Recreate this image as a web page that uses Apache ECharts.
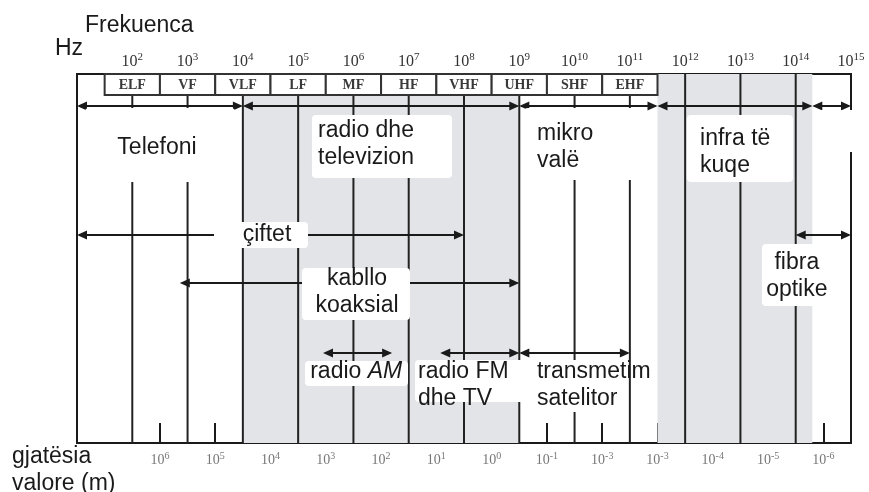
<!DOCTYPE html>
<html>
<head>
<meta charset="utf-8">
<script src="https://cdn.jsdelivr.net/npm/echarts@6/dist/echarts.min.js"></script>
<style>
    html, body { margin: 0; padding: 0; background: #fff; }
    #main { width: 869px; height: 492px; }
</style>
</head>
<body>
<div id="main"></div>
<script>
// frequency decades (exponent of 10, Hz)
const freqExp = [2, 3, 4, 5, 6, 7, 8, 9, 10, 11, 12, 13, 14, 15];
const decades = [2, 3, 4, 5, 6, 7, 8, 9, 10, 11, 12, 13, 14];
// bands, each one centred on its decade
const bandNames = ['ELF', 'VF', 'VLF', 'LF', 'MF', 'HF', 'VHF', 'UHF', 'SHF', 'EHF'];
const bandCenters = [2, 3, 4, 5, 6, 7, 8, 9, 10, 11];
// wavelength labels, on the half decades
const waveTicks = [2.5, 3.5, 4.5, 5.5, 6.5, 7.5, 8.5, 9.5, 10.5, 11.5, 12.5, 13.5, 14.5];
const waveExp = ['6', '5', '4', '3', '2', '1', '0', '-1', '-3', '-3', '-4', '-5', '-6'];
// services (top arrows)
const serviceNames = ['Telefoni', 'radio dhe\ntelevizion', 'mikro\nvalë', 'infra të\nkuqe', ''];
const serviceFrom = [1, 4, 9, 11.5, 14.3];
const serviceTo = [4, 9, 11.5, 14.3, 15];
// transmission media
const mediaNames = ['çiftet', 'kabllo\nkoaksial', '{n|radio }{i|AM}', 'radio FM\ndhe TV', 'transmetim\nsatelitor', 'fibra\noptike'];
const mediaFrom = [1, 2.86, 5.45, 7.57, 9, 14];
const mediaTo = [8, 9, 6.7, 9, 11, 15];
// shaded zones
const shadeFrom = [4, 11.5];
const shadeTo = [9, 14.3];

// layout (rows are px below the top of the box)
const ROW_MAX = 369;
const serviceRow = 32;
const mediaRows = [161, 209, 279, 279, 279, 161];
const serviceBoxes = [
    { box: [1.145, 3.858, 34, 108], at: [2.447, 74], align: 'center' },
    { box: [5.25, 7.783, 41, 104], at: [5.36, 70], align: 'left' },
    { box: [9.085, 11.183, 34, 106], at: [9.32, 73], align: 'left' },
    { box: [12.03, 13.95, 41, 108], at: [12.27, 78], align: 'left' },
    { box: [14.31, 15.2, 36, 78], at: [14.7, 57], align: 'center' },
];
const mediaBoxes = [
    { box: [3.478, 5.178, 148, 174], at: [4.437, 161], align: 'center' },
    { box: [5.07, 7.023, 194, 246], at: [6.065, 218], align: 'center' },
    { box: [5.124, 6.987, 287, 312], at: [6.05, 298], align: 'center' },
    { box: [7.114, 9.103, 286, 328], at: [7.168, 311], align: 'left' },
    { box: [9.194, 10.93, 286, 338], at: [9.32, 311], align: 'left' },
    { box: [13.39, 14.73, 170, 232], at: [14.02, 202], align: 'center' },
];

const SANS = "'Liberation Sans', Arial, sans-serif";
const SERIF = "'Liberation Serif', 'Times New Roman', serif";
const INK = '#1a1a1a';

function arrow(x0, x1, row, api) {
    const a = api.coord([x0, row]);
    const b = api.coord([x1, row]);
    const L = 10, H = 4.5;
    return {
        type: 'group',
        children: [
            { type: 'line', shape: { x1: a[0] + 2, y1: a[1], x2: b[0] - 2, y2: b[1] }, style: { stroke: INK, lineWidth: 2 } },
            { type: 'polygon', shape: { points: [[a[0], a[1]], [a[0] + L, a[1] - H], [a[0] + L, a[1] + H]] }, style: { fill: INK } },
            { type: 'polygon', shape: { points: [[b[0], b[1]], [b[0] - L, b[1] - H], [b[0] - L, b[1] + H]] }, style: { fill: INK } },
        ]
    };
}

function labelBox(text, lay, api) {
    const p0 = api.coord([lay.box[0], lay.box[2]]);
    const p1 = api.coord([lay.box[1], lay.box[3]]);
    const t = api.coord(lay.at);
    return {
        type: 'group',
        children: [
            { type: 'rect', shape: { x: p0[0], y: p0[1], width: p1[0] - p0[0], height: p1[1] - p0[1], r: 4 }, style: { fill: '#fff' } },
            {
                type: 'text',
                x: t[0], y: t[1],
                style: {
                    text: text,
                    fill: INK,
                    fontSize: 23,
                    fontFamily: SANS,
                    lineHeight: 27,
                    align: lay.align,
                    verticalAlign: 'middle',
                    rich: {
                        n: { fontSize: 23, fontFamily: SANS, fill: INK },
                        i: { fontSize: 23, fontFamily: SANS, fontStyle: 'italic', fill: INK },
                    }
                }
            }
        ]
    };
}

function getOption() {
    return {
        animation: false,
        grid: { left: 77, right: 18, top: 74, bottom: 49, show: true, borderColor: INK, borderWidth: 2 },
        xAxis: [
            {
                type: 'value', min: 1, max: 15, position: 'top',
                axisLine: { show: false }, axisTick: { show: false }, splitLine: { show: false },
                axisLabel: {
                    customValues: freqExp,
                    margin: 2,
                    formatter: v => '{b|10}{s|' + v + '}',
                    rich: {
                        b: { fontFamily: SERIF, fontSize: 16, color: '#333', lineHeight: 20 },
                        s: { fontFamily: SERIF, fontSize: 11, color: '#333', lineHeight: 10, verticalAlign: 'top' },
                    }
                }
            },
            {
                type: 'value', min: 1, max: 15, position: 'bottom',
                axisLine: { show: false }, splitLine: { show: false },
                axisTick: { show: true, inside: true, length: 20, customValues: waveTicks, lineStyle: { color: INK, width: 2 } },
                axisLabel: {
                    customValues: waveTicks,
                    margin: 8,
                    formatter: v => '{b|10}{s|' + waveExp[Math.round(v - 2.5)] + '}',
                    rich: {
                        b: { fontFamily: SERIF, fontSize: 14, color: '#777', lineHeight: 18 },
                        s: { fontFamily: SERIF, fontSize: 10, color: '#777', lineHeight: 8, verticalAlign: 'top' },
                    }
                }
            }
        ],
        yAxis: { type: 'value', min: 0, max: ROW_MAX, inverse: true, show: false },
        graphic: [
            { type: 'text', x: 85, y: 26, style: { text: 'Frekuenca', fontSize: 23, fontFamily: SANS, fill: INK, verticalAlign: 'middle', textVerticalAlign: 'middle' } },
            { type: 'text', x: 55, y: 49, style: { text: 'Hz', fontSize: 23, fontFamily: SANS, fill: INK, verticalAlign: 'middle', textVerticalAlign: 'middle' } },
            { type: 'text', x: 12, y: 470, style: { text: 'gjatësia\nvalore (m)', fontSize: 23, fontFamily: SANS, fill: INK, lineHeight: 27, verticalAlign: 'middle', textVerticalAlign: 'middle' } },
        ],
        series: [
            {
                // shaded zones
                type: 'custom', z: 1, silent: true,
                data: shadeFrom.map((f, i) => [f, shadeTo[i]]),
                renderItem: (params, api) => {
                    const p0 = api.coord([api.value(0), 0]);
                    const p1 = api.coord([api.value(1), ROW_MAX]);
                    return { type: 'rect', shape: { x: p0[0], y: p0[1], width: p1[0] - p0[0], height: p1[1] - p0[1] }, style: { fill: '#e2e4e7' } };
                }
            },
            {
                // decade lines
                type: 'custom', z: 2, silent: true,
                data: decades.map(d => [d]),
                renderItem: (params, api) => {
                    const p0 = api.coord([api.value(0), 0]);
                    const p1 = api.coord([api.value(0), ROW_MAX]);
                    return { type: 'line', shape: { x1: p0[0], y1: p0[1], x2: p1[0], y2: p1[1] }, style: { stroke: '#222', lineWidth: 2 } };
                }
            },
            {
                // band boxes
                type: 'custom', z: 3, silent: true,
                data: bandCenters.map(c => [c]),
                renderItem: (params, api) => {
                    const c = api.value(0);
                    const p0 = api.coord([c - 0.5, 0]);
                    const p1 = api.coord([c + 0.5, 21]);
                    return {
                        type: 'group',
                        children: [
                            { type: 'rect', shape: { x: p0[0], y: p0[1], width: p1[0] - p0[0], height: p1[1] - p0[1] }, style: { fill: '#fff', stroke: '#333', lineWidth: 2 } },
                            {
                                type: 'text', x: (p0[0] + p1[0]) / 2, y: (p0[1] + p1[1]) / 2 + 1,
                                style: { text: bandNames[params.dataIndex], fontSize: 14, fontWeight: 'bold', fontFamily: SERIF, fill: '#3a3a3a', align: 'center', verticalAlign: 'middle' }
                            }
                        ]
                    };
                }
            },
            {
                // service arrows
                type: 'custom', z: 4, silent: true,
                data: serviceFrom.map((f, i) => [f, serviceTo[i]]),
                renderItem: (params, api) => arrow(api.value(0), api.value(1), serviceRow, api)
            },
            {
                // media arrows
                type: 'custom', z: 4, silent: true,
                data: mediaFrom.map((f, i) => [f, mediaTo[i]]),
                renderItem: (params, api) => arrow(api.value(0), api.value(1), mediaRows[params.dataIndex], api)
            },
            {
                // service labels
                type: 'custom', z: 5, silent: true,
                data: serviceNames.map((n, i) => [i]),
                renderItem: (params, api) => labelBox(serviceNames[params.dataIndex], serviceBoxes[params.dataIndex], api)
            },
            {
                // media labels
                type: 'custom', z: 5, silent: true,
                data: mediaNames.map((n, i) => [i]),
                renderItem: (params, api) => labelBox(mediaNames[params.dataIndex], mediaBoxes[params.dataIndex], api)
            },
        ]
    };
}

const chartDom = document.getElementById('main');
const chart = echarts.init(chartDom);
chart.setOption(getOption());
</script>
</body>
</html>
